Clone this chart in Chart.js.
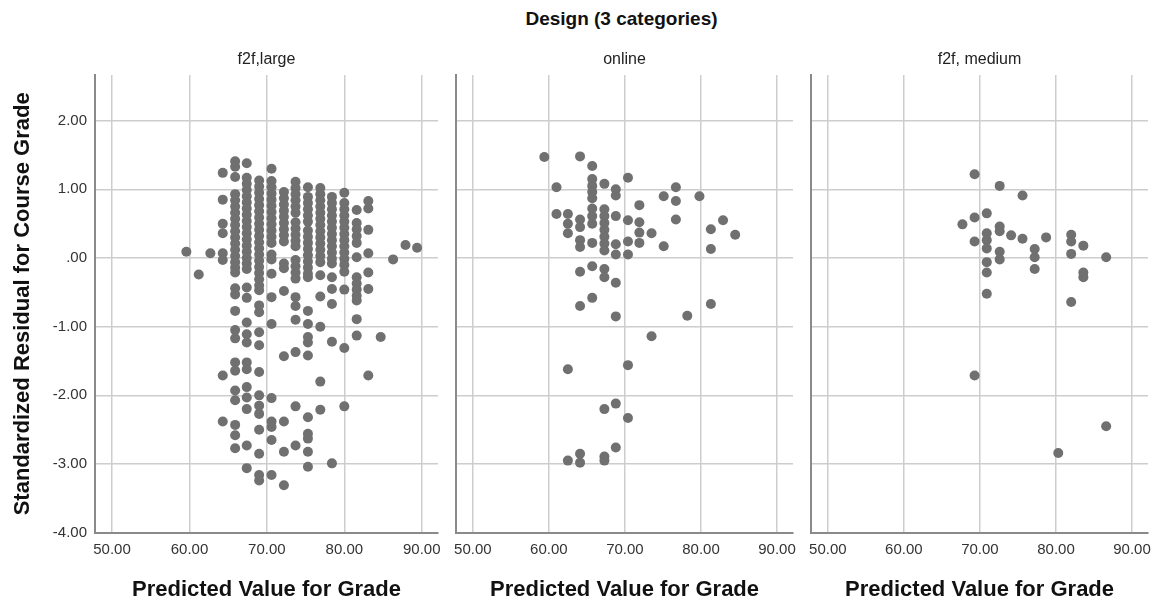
<!DOCTYPE html>
<html>
<head>
<meta charset="utf-8">
<script src="https://cdn.jsdelivr.net/npm/chart.js@4.4.1/dist/chart.umd.min.js"></script>
<style>
  html, body { margin:0; padding:0; background:#ffffff; width:1153px; height:605px; overflow:hidden; }
  #mainTitle { position:absolute; left:95px; width:1053px; top:8px; text-align:center;
    font: bold 19px "Liberation Sans", Arial, sans-serif; color:#111; }
  .box { position:absolute; top:0; width:360px; height:605px; }
  canvas { display:block; }
</style>
</head>
<body>
<div id="mainTitle">Design (3 categories)</div>
<div class="box" style="left:0px;width:450px"><canvas id="c0" width="450" height="605"></canvas></div>
<div class="box" style="left:445px"><canvas id="c1" width="360" height="605"></canvas></div>
<div class="box" style="left:800px"><canvas id="c2" width="360" height="605"></canvas></div>
<script>
// ---- data: [predicted value, [standardized residuals]] ----
const panelTitles = ['f2f,large', 'online', 'f2f, medium'];
const xAxisTitle = 'Predicted Value for Grade';
const yAxisTitle = 'Standardized Residual for Course Grade';
const xTickValues = [50, 60, 70, 80, 90];
const yTickValues = [-4, -3, -2, -1, 0, 1, 2];

const f2fLargeColumns = [
  [59.6, [0.09]],
  [61.2, [-0.24]],
  [62.7, [0.07]],
  [64.3, [1.24, 0.85, 0.50, 0.36, 0.07, -0.03, -1.71, -2.38]],
  [65.9, [1.41, 1.33, 1.18, 0.93, 0.84, 0.75, 0.66, 0.57, 0.48, 0.39, 0.30, 0.21, 0.12, 0.03, -0.06, -0.14, -0.21, -0.44, -0.53, -0.77, -1.05, -1.17, -1.52, -1.64, -1.93, -2.07, -2.43, -2.58, -2.77]],
  [67.4, [1.38, 1.17, 1.08, 0.99, 0.90, 0.81, 0.72, 0.63, 0.54, 0.45, 0.36, 0.27, 0.18, 0.09, 0.00, -0.08, -0.16, -0.43, -0.58, -0.94, -1.11, -1.23, -1.52, -1.62, -1.88, -2.03, -2.20, -2.73, -3.06]],
  [69.0, [1.13, 1.04, 0.95, 0.86, 0.77, 0.68, 0.59, 0.50, 0.41, 0.32, 0.23, 0.14, 0.05, -0.04, -0.13, -0.22, -0.31, -0.40, -0.47, -0.69, -0.79, -1.08, -1.27, -1.66, -2.00, -2.15, -2.27, -2.50, -2.85, -3.16, -3.24]],
  [70.6, [1.30, 1.12, 1.03, 0.94, 0.85, 0.76, 0.67, 0.58, 0.49, 0.40, 0.31, 0.22, 0.05, -0.02, -0.23, -0.57, -0.96, -2.04, -2.38, -2.46, -2.65, -3.16]],
  [72.2, [0.96, 0.87, 0.78, 0.69, 0.60, 0.51, 0.42, 0.33, 0.24, -0.08, -0.15, -0.48, -1.43, -2.38, -2.82, -3.31]],
  [73.7, [1.11, 1.02, 0.93, 0.84, 0.75, 0.66, 0.52, 0.43, 0.34, 0.25, 0.17, -0.03, -0.12, -0.21, -0.30, -0.57, -0.70, -0.90, -1.37, -2.16, -2.73]],
  [75.3, [1.03, 0.89, 0.80, 0.71, 0.62, 0.53, 0.40, 0.31, 0.22, 0.13, 0.04, -0.05, -0.14, -0.23, -0.28, -0.77, -0.96, -1.15, -1.23, -1.42, -2.32, -2.56, -2.63, -2.82, -3.04]],
  [76.9, [1.02, 0.93, 0.84, 0.75, 0.66, 0.57, 0.48, 0.39, 0.30, 0.21, 0.12, 0.03, -0.06, -0.25, -0.56, -1.00, -1.80, -2.21]],
  [78.4, [0.89, 0.80, 0.71, 0.62, 0.53, 0.44, 0.35, 0.26, 0.17, 0.08, -0.01, -0.08, -0.28, -0.45, -0.67, -1.22, -2.99]],
  [80.0, [0.95, 0.80, 0.71, 0.62, 0.53, 0.44, 0.35, 0.26, 0.17, 0.08, -0.01, -0.10, -0.20, -0.46, -1.31, -2.16]],
  [81.6, [0.70, 0.51, 0.42, 0.32, 0.22, 0.01, -0.28, -0.37, -0.46, -0.55, -0.62, -0.89, -1.13]],
  [83.1, [0.83, 0.72, 0.41, 0.07, -0.21, -0.45, -1.71]],
  [84.7, [-1.15]],
  [86.3, [-0.02]],
  [87.9, [0.19]],
  [89.4, [0.15]]
];

const onlineColumns = [
  [59.4, [1.47]],
  [61.0, [1.03, 0.64]],
  [62.5, [0.64, 0.50, 0.36, -1.62, -2.95]],
  [64.1, [1.48, 0.56, 0.45, 0.26, 0.16, -0.20, -0.70, -2.85, -2.98]],
  [65.7, [1.34, 1.15, 1.05, 0.96, 0.87, 0.72, 0.61, 0.50, 0.22, -0.12, -0.58]],
  [67.3, [1.08, 0.71, 0.61, 0.51, 0.41, 0.31, 0.21, 0.11, -0.16, -0.28, -2.20, -2.89, -2.95]],
  [68.8, [1.00, 0.91, 0.61, 0.20, 0.05, -0.36, -0.85, -2.12, -2.76]],
  [70.4, [1.17, 0.55, 0.24, 0.05, -1.56, -2.33]],
  [71.9, [0.77, 0.52, 0.37, 0.22]],
  [73.5, [0.36, -1.14]],
  [75.1, [0.90, 0.17]],
  [76.7, [1.03, 0.83, 0.56]],
  [78.2, [-0.84]],
  [79.8, [0.90]],
  [81.3, [0.42, 0.13, -0.67]],
  [82.9, [0.55]],
  [84.5, [0.34]]
];

const f2fMediumColumns = [
  [67.7, [0.49]],
  [69.3, [1.22, 0.59, 0.24, -1.71]],
  [70.9, [0.65, 0.36, 0.26, 0.14, -0.06, -0.21, -0.52]],
  [72.6, [1.05, 0.46, 0.39, 0.09, -0.02]],
  [74.1, [0.33]],
  [75.6, [0.91, 0.28]],
  [77.2, [0.13, 0.01, -0.16]],
  [78.7, [0.30]],
  [80.3, [-2.84]],
  [82.0, [0.34, 0.24, 0.06, -0.64]],
  [83.6, [0.18, -0.21, -0.28]],
  [86.6, [0.01, -2.45]]
];

// ---- styling ----
const FONT = '"Liberation Sans", Arial, sans-serif';
const POINT_COLOR = 'rgb(112,112,112)';
const GRID_COLOR = '#cdcdcd';
const AXIS_COLOR = '#8a8a8a';

function toPoints(cols) {
  return cols.flatMap(([x, ys]) => ys.map(y => ({ x: x, y: y })));
}

function makeChart(id, cols, title, first) {
  return new Chart(document.getElementById(id), {
    type: 'scatter',
    data: { datasets: [{ data: toPoints(cols), backgroundColor: POINT_COLOR, borderWidth: 0, pointRadius: 5, pointHoverRadius: 5 }] },
    options: {
      responsive: false,
      animation: false,
      events: [],
      layout: { padding: { top: 50, right: 12, bottom: 0, left: 0 } },
      plugins: {
        legend: { display: false },
        tooltip: { enabled: false },
        title: { display: true, text: title, fullSize: false, color: '#222',
                 font: { family: FONT, size: 16, weight: 'normal' }, padding: { top: 0, bottom: 5.8 } }
      },
      scales: {
        x: {
          type: 'linear', min: 47.8, max: 92.1,
          afterBuildTicks: s => { s.ticks = xTickValues.map(v => ({ value: v })); },
          afterFit: s => { s.height = 72.3; },
          ticks: { includeBounds: false, padding: 8.5, color: '#333', maxRotation: 0,
                   font: { family: FONT, size: 15 }, callback: v => Number(v).toFixed(2) },
          grid: { color: GRID_COLOR, lineWidth: 1.5, drawTicks: false },
          border: { display: true, color: AXIS_COLOR, width: 2 },
          title: { display: true, text: xAxisTitle, color: '#111',
                   font: { family: FONT, size: 22, weight: 'bold' }, padding: { top: 0, bottom: 1.8 } }
        },
        y: {
          type: 'linear', min: -4, max: 2.665,
          afterBuildTicks: s => { s.ticks = yTickValues.map(v => ({ value: v })); },
          afterFit: s => { s.width = first ? 95 : 5; },
          ticks: { display: first, includeBounds: false, padding: 8, color: '#333',
                   font: { family: FONT, size: 15 },
                   callback: v => (v === 0 ? '.00' : Number(v).toFixed(2)) },
          grid: { color: GRID_COLOR, lineWidth: 1.5, drawTicks: false },
          border: { display: true, color: AXIS_COLOR, width: 2 },
          title: { display: first, text: yAxisTitle, color: '#111',
                   font: { family: FONT, size: 22, weight: 'bold' }, padding: { top: 10, bottom: 0 } }
        }
      }
    }
  });
}

makeChart('c0', f2fLargeColumns, panelTitles[0], true);
makeChart('c1', onlineColumns, panelTitles[1], false);
makeChart('c2', f2fMediumColumns, panelTitles[2], false);
</script>
</body>
</html>
